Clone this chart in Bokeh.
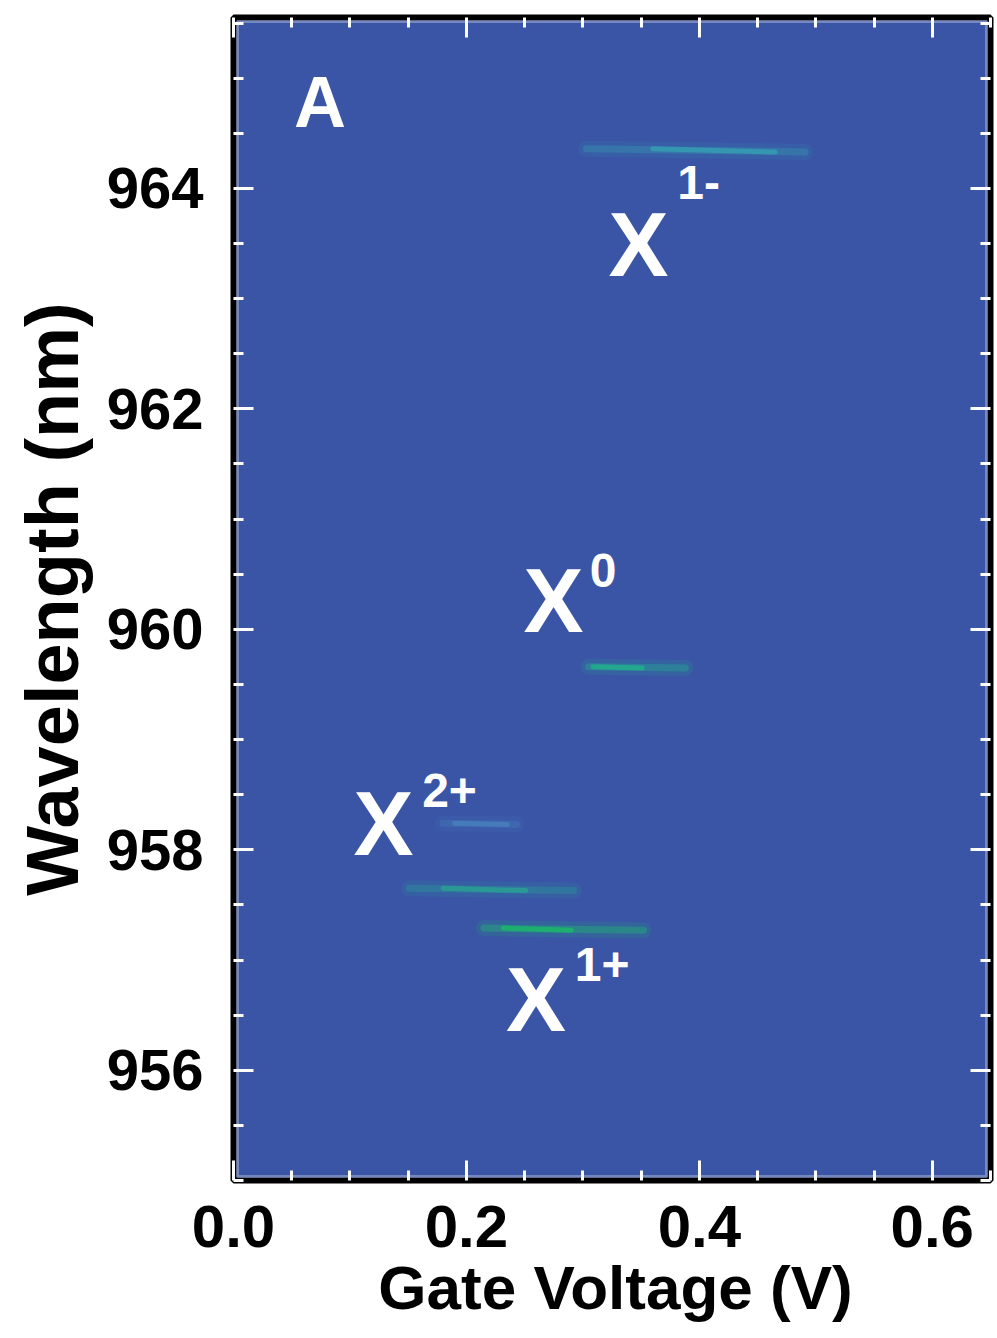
from bokeh.plotting import figure
from bokeh.layouts import column
from bokeh.models import (LinearAxis, BoxAnnotation, Node, Range1d, FixedTicker,
                          ColumnDataSource, NumeralTickFormatter, CustomLabelingPolicy)
from bokeh.core.properties import value
from bokeh.embed import file_html
from bokeh.resources import INLINE

# ---------------- data ----------------
voltage_ticks = [0.0, 0.2, 0.4, 0.6]
voltage_minor = [0.05, 0.10, 0.15, 0.25, 0.30, 0.35, 0.45, 0.50, 0.55, 0.65]
wavelength_ticks = [956, 958, 960, 962, 964]
wavelength_minor = [955.0, 955.5, 956.5, 957.0, 957.5, 958.5, 959.0, 959.5,
                    960.5, 961.0, 961.5, 962.5, 963.0, 963.5, 964.5, 965.0, 965.5]

# emission streaks: start / end voltage, wavelength at start / end
streak_v_start = [0.303, 0.305, 0.180, 0.151, 0.215]
streak_v_end = [0.491, 0.388, 0.243, 0.292, 0.352]
streak_wl_start = [964.36, 959.66, 958.24, 957.65, 957.29]
streak_wl_end = [964.33, 959.65, 958.23, 957.63, 957.27]
core_v_start = [0.360, 0.309, 0.190, 0.180, 0.232]
core_v_end = [0.465, 0.351, 0.235, 0.251, 0.290]
streak_strength = [0.75, 0.90, 0.50, 0.75, 1.00]
streak_color = ["#34a6b4", "#22b08c", "#4f95c8", "#26aa92", "#1cb46e"]

# peak labels (vertical position = middle of the letters)
peak_base = ["X", "X", "X", "X"]
peak_sup = ["1-", "0", "2+", "1+"]
peak_v = [0.322, 0.249, 0.103, 0.234]
peak_wl = [963.49, 960.26, 958.23, 956.64]
sup_v = [0.381, 0.306, 0.162, 0.293]
sup_wl = [964.05, 960.53, 958.54, 956.96]

panel_letter = ["A"]
panel_v = [0.052]
panel_wl = [964.78]

x_title = ["Gate Voltage (V)"]
x_title_v = [0.328]
x_title_pos = [0.54]
y_title = "Wavelength (nm)"

# ---------------- figure ----------------
BG = "#3a55a6"
FONT = "Liberation Sans"
WIDTH = 995

p = figure(width=WIDTH, height=1276, output_backend="svg", toolbar_location=None,
           x_range=Range1d(0.0, 0.65), y_range=Range1d(955.0, 965.55),
           min_border_left=233, min_border_right=5, min_border_top=17,
           min_border_bottom=96, y_axis_label=y_title)
p.background_fill_color = BG
p.border_fill_color = "white"
p.outline_line_color = "black"
p.outline_line_width = 6
p.grid.visible = False

xbot = p.below[0]
yleft = p.left[0]
xtop = LinearAxis(axis_label=None)
yright = LinearAxis(axis_label=None)
p.add_layout(xtop, "above")
p.add_layout(yright, "right")

for ax in (xbot, xtop):
    ax.ticker = FixedTicker(ticks=voltage_ticks, minor_ticks=voltage_minor)
    ax.formatter = NumeralTickFormatter(format="0.0")
for ax in (yleft, yright):
    ax.ticker = FixedTicker(ticks=wavelength_ticks, minor_ticks=wavelength_minor)

for ax in (xbot, xtop, yleft, yright):
    ax.axis_line_color = None
    ax.major_tick_in = 20
    ax.major_tick_out = 0
    ax.minor_tick_in = 10
    ax.minor_tick_out = 0
    ax.major_tick_line_color = "white"
    ax.major_tick_line_width = 3
    ax.minor_tick_line_color = "white"
    ax.minor_tick_line_width = 3
    ax.major_label_text_font = FONT
    ax.major_label_text_font_style = "bold"
    ax.major_label_text_color = "black"
    ax.axis_label_text_font = FONT
    ax.axis_label_text_font_style = "bold"
    ax.axis_label_text_color = "black"

# main axes
xbot.major_label_text_font_size = "60px"
xbot.major_label_standoff = 25
yleft.major_label_text_font_size = "58px"
yleft.axis_label_text_font_size = "74px"
yleft.major_label_standoff = 30
yleft.axis_label_standoff = 10

# mirror axes: ticks only, no labels
hide_all = "for (const i of indices) { indices.unset(i) }\nreturn indices"
for ax in (xtop, yright):
    ax.major_label_policy = CustomLabelingPolicy(code=hide_all)
    ax.major_label_standoff = 0
    ax.major_label_text_font_size = "1px"

# white inner line of the frame
inner = BoxAnnotation(left=Node(target="frame", symbol="left", offset=4),
                      right=Node(target="frame", symbol="right", offset=-4),
                      top=Node(target="frame", symbol="top", offset=4),
                      bottom=Node(target="frame", symbol="bottom", offset=-4),
                      fill_alpha=0, line_color="white", line_width=3, level="overlay")
p.add_layout(inner)

# streaks
src = ColumnDataSource(dict(
    x0=streak_v_start, x1=streak_v_end, y0=streak_wl_start, y1=streak_wl_end,
    cx0=core_v_start, cx1=core_v_end,
    color=streak_color,
    glow=[0.16 * s for s in streak_strength],
    body=[0.42 * s for s in streak_strength],
    core=[0.90 * s for s in streak_strength],
))
p.segment(x0="x0", y0="y0", x1="x1", y1="y1", source=src, line_color="color",
          line_alpha="glow", line_width=16, line_cap="round")
p.segment(x0="x0", y0="y0", x1="x1", y1="y1", source=src, line_color="color",
          line_alpha="body", line_width=7, line_cap="round")
p.segment(x0="cx0", y0="y0", x1="cx1", y1="y1", source=src, line_color="color",
          line_alpha="core", line_width=5, line_cap="round")

# labels
p.text(x=peak_v, y=peak_wl, text=peak_base, text_font=value(FONT),
       text_font_style="bold", text_font_size="90px", text_color="white",
       text_align="left", text_baseline="middle")
p.text(x=sup_v, y=sup_wl, text=peak_sup, text_font=value(FONT),
       text_font_style="bold", text_font_size="48px", text_color="white",
       text_align="left", text_baseline="middle")
p.text(x=panel_v, y=panel_wl, text=panel_letter, text_font=value(FONT),
       text_font_style="bold", text_font_size="72px", text_color="white",
       text_align="left", text_baseline="middle")

# x-axis title strip (shares the x range so it centres like an axis title);
# transparent and pulled up a little so its text box is not cut
p2 = figure(width=WIDTH, height=90, output_backend="svg", toolbar_location=None,
            x_range=p.x_range, y_range=Range1d(0, 1),
            min_border_left=233, min_border_right=5, min_border_top=0,
            min_border_bottom=0, x_axis_location=None, y_axis_location=None,
            margin=(-30, 0, 0, 0))
p2.outline_line_color = None
p2.grid.visible = False
p2.background_fill_alpha = 0
p2.border_fill_alpha = 0
p2.text(x=x_title_v, y=x_title_pos, text=x_title, text_font=value(FONT),
        text_font_style="bold", text_font_size="62px", text_color="black",
        text_align="center", text_baseline="middle")

layout = column(p, p2, spacing=0)
open("out.html", "w").write(file_html(layout, INLINE))
